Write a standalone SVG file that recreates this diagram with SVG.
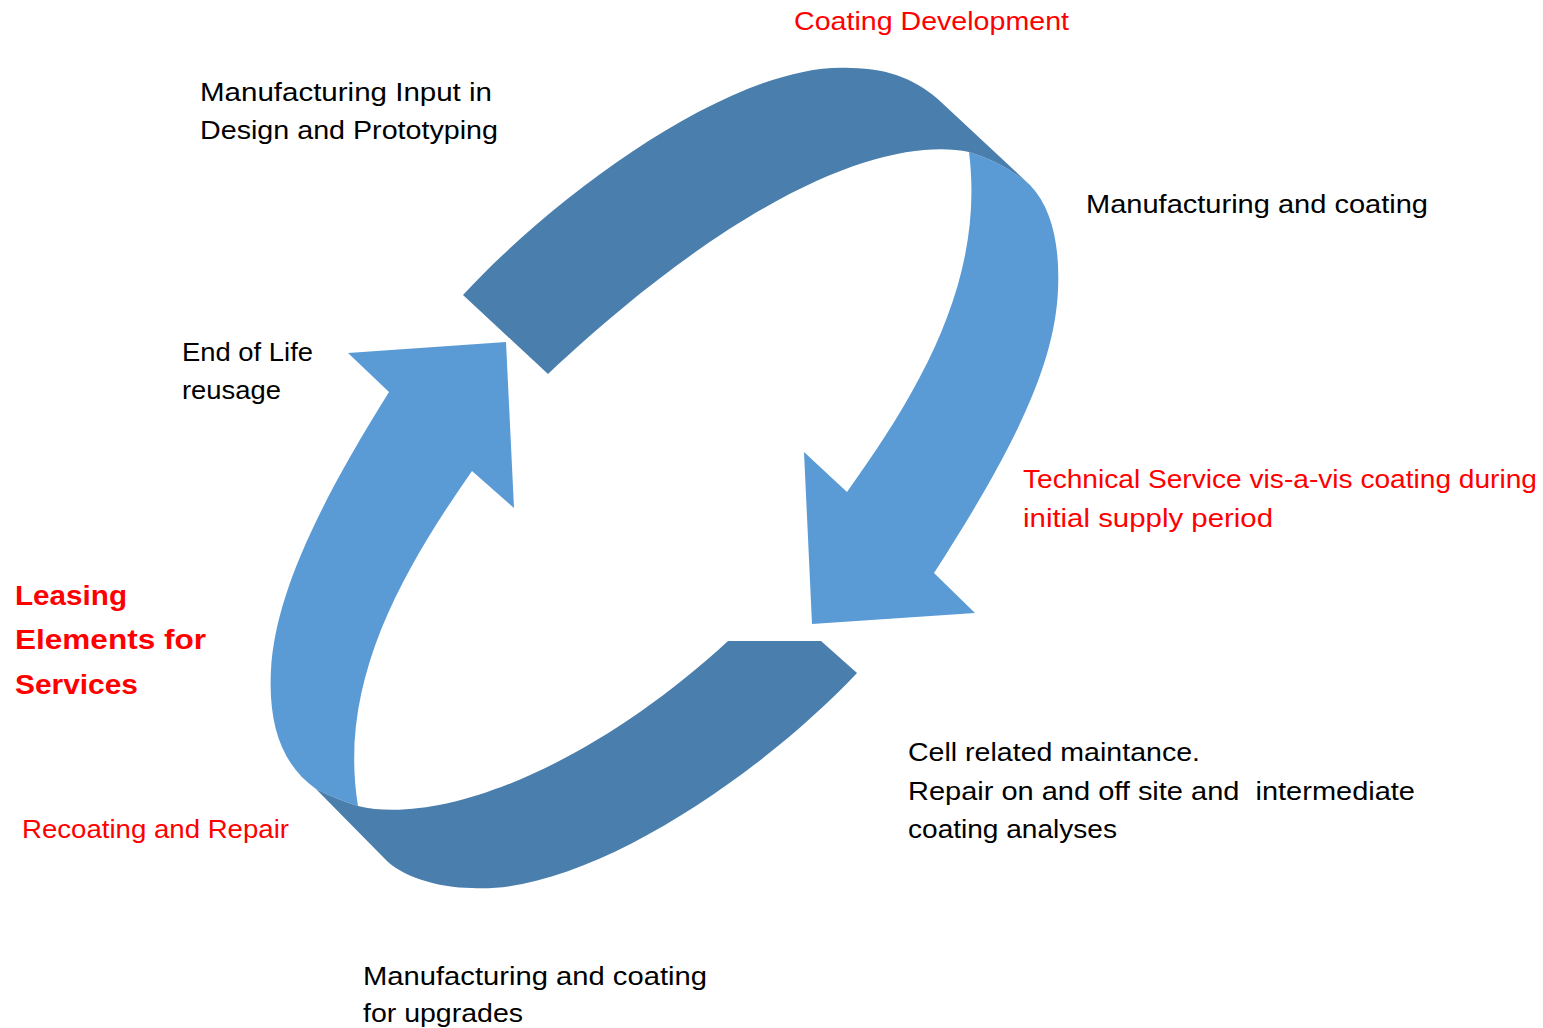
<svg xmlns="http://www.w3.org/2000/svg" width="1543" height="1028" viewBox="0 0 1543 1028">
<style>
.dark{fill:#4a7eac}
.light{fill:#5b9bd5}
.t{font-family:"Liberation Sans",Arial,sans-serif;font-size:25px;fill:#000}
.r{fill:#ff0000}
.b{font-family:"Liberation Sans",Arial,sans-serif;font-size:28px;font-weight:bold;fill:#ff0000}
</style>
<rect width="1543" height="1028" fill="#ffffff"/>
<g id="connectors">
  <path id="arrow-right" class="light" d="M969,152 Q1003,162 1030,185 C1052,208 1060,245 1058,290 C1055,360 1020,440 934,573 L975,613 L812,624 L804,452 L847,492 C920,390 985,280 969,152 Z"/>
  <path id="arrow-left" class="light" d="M316,789 Q338,800 358,806 C338,684 400,574 472,471 L514,508 L506,342 L348,353 L389,392 C312,515 275,600 271,670 C268,725 282,765 316,789 Z"/>
  <path id="band-top" class="dark" d="M463,295 C560,190 740,60 851,68 C890,68 920,82 941,102 L1030,185 Q1003,162 969,152 C900,138 760,175 548,374 Z"/>
  <path id="band-bottom" class="dark" d="M857,673 C760,776 585,895 472,888 C438,888 400,876 384,858 L316,789 Q338,800 358,806 C440,826 590,768 728,641 L821,641 Z"/>
</g>
<g id="node-coating-development"><text class="t r" x="794" y="30" textLength="275" lengthAdjust="spacingAndGlyphs">Coating Development</text></g>
<g id="node-manufacturing-input">
  <text class="t" x="200" y="101" textLength="292" lengthAdjust="spacingAndGlyphs">Manufacturing Input in</text>
  <text class="t" x="200" y="139" textLength="298" lengthAdjust="spacingAndGlyphs">Design and Prototyping</text>
</g>
<g id="node-manufacturing-coating"><text class="t" x="1086" y="213" textLength="342" lengthAdjust="spacingAndGlyphs">Manufacturing and coating</text></g>
<g id="node-end-of-life">
  <text class="t" x="182" y="361" textLength="131" lengthAdjust="spacingAndGlyphs">End of Life</text>
  <text class="t" x="182" y="399" textLength="99" lengthAdjust="spacingAndGlyphs">reusage</text>
</g>
<g id="node-technical-service">
  <text class="t r" x="1023" y="488" textLength="514" lengthAdjust="spacingAndGlyphs">Technical Service vis-a-vis coating during</text>
  <text class="t r" x="1023" y="527" textLength="250" lengthAdjust="spacingAndGlyphs">initial supply period</text>
</g>
<g id="node-leasing">
  <text class="b" x="15" y="605" textLength="112" lengthAdjust="spacingAndGlyphs">Leasing</text>
  <text class="b" x="15" y="649" textLength="191" lengthAdjust="spacingAndGlyphs">Elements for</text>
  <text class="b" x="15" y="694" textLength="123" lengthAdjust="spacingAndGlyphs">Services</text>
</g>
<g id="node-recoating"><text class="t r" x="22" y="838" textLength="267" lengthAdjust="spacingAndGlyphs">Recoating and Repair</text></g>
<g id="node-cell-maintenance">
  <text class="t" x="908" y="761" textLength="292" lengthAdjust="spacingAndGlyphs">Cell related maintance.</text>
  <text class="t" x="908" y="800" textLength="507" lengthAdjust="spacingAndGlyphs" xml:space="preserve">Repair on and off site and  intermediate</text>
  <text class="t" x="908" y="838" textLength="209" lengthAdjust="spacingAndGlyphs">coating analyses</text>
</g>
<g id="node-upgrades">
  <text class="t" x="363" y="985" textLength="344" lengthAdjust="spacingAndGlyphs">Manufacturing and coating</text>
  <text class="t" x="363" y="1022" textLength="160" lengthAdjust="spacingAndGlyphs">for upgrades</text>
</g>
</svg>
